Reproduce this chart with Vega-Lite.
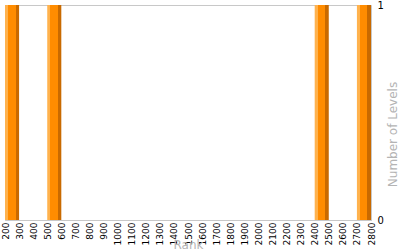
{
  "$schema": "https://vega.github.io/schema/vega-lite/v6.json",
  "autosize": "none",
  "width": 366,
  "height": 215,
  "padding": {"left": 5, "top": 5, "right": 29, "bottom": 30},
  "background": "white",
  "config": {
    "view": {"stroke": "#c8c8c8", "strokeWidth": 1},
    "font": "DejaVu Sans"
  },
  "data": {
    "values": [
      {"start": 200, "end": 300, "levels": 1},
      {"start": 500, "end": 600, "levels": 1},
      {"start": 2400, "end": 2500, "levels": 1},
      {"start": 2700, "end": 2800, "levels": 1}
    ]
  },
  "mark": {
    "type": "rect",
    "color": {
      "gradient": "linear",
      "x1": 0, "x2": 1, "y1": 0, "y2": 0,
      "stops": [
        {"offset": 0, "color": "#FFB24D"},
        {"offset": 0.2, "color": "#FFB24D"},
        {"offset": 0.2, "color": "#FF8C00"},
        {"offset": 0.75, "color": "#FF8C00"},
        {"offset": 0.75, "color": "#C96A00"},
        {"offset": 1, "color": "#C96A00"}
      ]
    }
  },
  "encoding": {
    "x": {
      "field": "start", "type": "quantitative",
      "scale": {"domain": [200, 2800], "nice": false, "zero": false},
      "axis": {
        "title": "Rank",
        "values": [200,300,400,500,600,700,800,900,1000,1100,1200,1300,1400,1500,1600,1700,1800,1900,2000,2100,2200,2300,2400,2500,2600,2700,2800],
        "labelAngle": 270,
        "labelAlign": "right",
        "labelBaseline": "middle",
        "labelFontSize": 9,
        "labelColor": "#000000",
        "labelPadding": 2,
        "labelOverlap": false,
        "labelFlush": false,
        "format": "d",
        "ticks": false,
        "grid": false,
        "domainColor": "#c8c8c8",
        "titleColor": "#b4b4b4",
        "titleFontSize": 12,
        "titleFontWeight": "normal",
        "titleY": 24,
        "titleBaseline": "middle"
      }
    },
    "x2": {"field": "end"},
    "y": {
      "field": "levels", "type": "quantitative",
      "scale": {"domain": [0, 1], "nice": false},
      "axis": {
        "orient": "right",
        "title": "Number of Levels",
        "values": [0, 1],
        "format": "d",
        "ticks": false,
        "grid": false,
        "labelFontSize": 10,
        "labelColor": "#000000",
        "labelPadding": 6,
        "labelFlush": false,
        "domainColor": "#c8c8c8",
        "titleColor": "#b4b4b4",
        "titleFontSize": 12,
        "titleFontWeight": "normal",
        "titleAngle": 270,
        "titleX": 21,
        "titleY": 129,
        "titleBaseline": "middle",
        "titleAlign": "center"
      }
    },
    "y2": {"datum": 0}
  }
}
